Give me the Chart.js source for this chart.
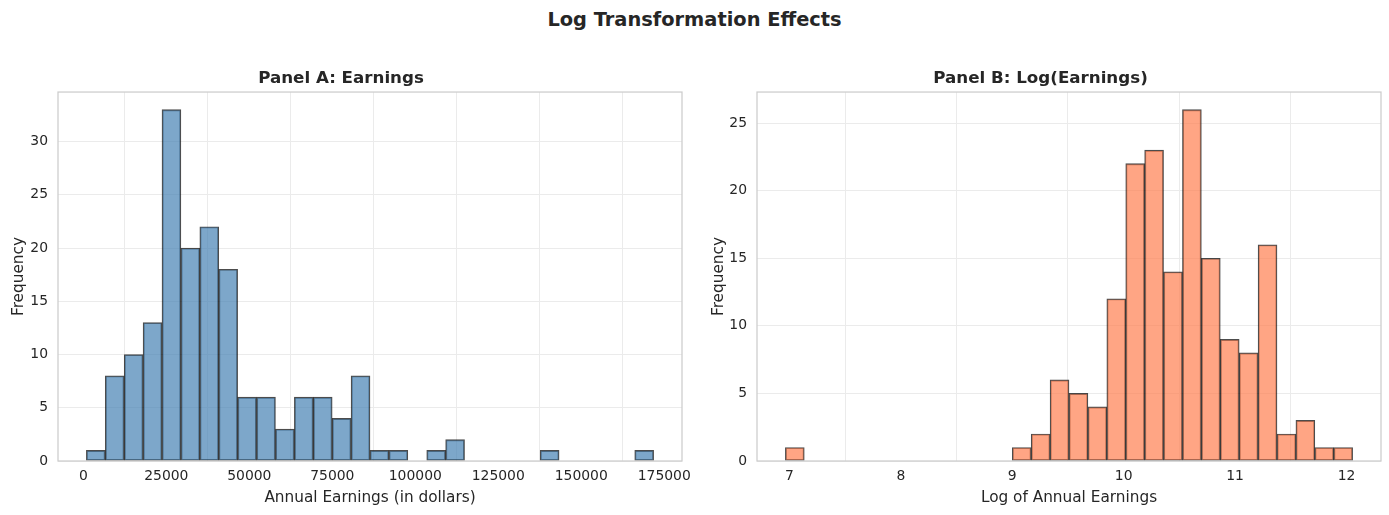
<!DOCTYPE html>
<html>
<head>
<meta charset="utf-8">
<script src="https://cdn.jsdelivr.net/npm/chart.js@4/dist/chart.umd.min.js"></script>
<style>
    body { margin: 0; background: white; width: 1389px; height: 515px; position: relative; overflow: hidden; }
    #suptitle {
        position: absolute; left: 0; top: 8px; width: 1389px; text-align: center;
        font-family: 'DejaVu Sans'; font-weight: bold; font-size: 19.4px; color: #262626;
    }
    #boxA { position: absolute; left: 0; top: 0; width: 694px; height: 515px; }
    #boxB { position: absolute; left: 700px; top: 0; width: 689px; height: 515px; }
</style>
</head>
<body>
<div id="suptitle">Log Transformation Effects</div>
<div id="boxA"><canvas id="panelA"></canvas></div>
<div id="boxB"><canvas id="panelB"></canvas></div>
<script>
// Panel A: earnings histogram, 30 bins
const earningsBinStart = 900;
const earningsBinWidth = 5697;
const earningsCounts = [1, 8, 10, 13, 33, 20, 22, 18, 6, 6, 3, 6, 6, 4, 8, 1, 1, 0, 1, 2, 0, 0, 0, 0, 1, 0, 0, 0, 0, 1];
const earningsXTicks = [0, 25000, 50000, 75000, 100000, 125000, 150000, 175000];
const earningsYTicks = [0, 5, 10, 15, 20, 25, 30];

// Panel B: log earnings histogram, 30 bins
const logBinStart = 6.964;
const logBinWidth = 0.1697;
const logCounts = [1, 0, 0, 0, 0, 0, 0, 0, 0, 0, 0, 0, 1, 2, 6, 5, 4, 12, 22, 23, 14, 26, 15, 9, 8, 16, 2, 3, 1, 1];
const logXTicks = [7, 8, 9, 10, 11, 12];
const logYTicks = [0, 5, 10, 15, 20, 25];

const textColor = '#262626';
const gridColor = '#ebebeb';

Chart.defaults.font.family = 'DejaVu Sans';
Chart.defaults.color = textColor;

// full box around the plot area (all four spines)
const frame = {
    id: 'frame',
    afterDraw(chart) {
        const a = chart.chartArea;
        const c = chart.ctx;
        c.save();
        c.strokeStyle = '#cccccc';
        c.lineWidth = 1.25;
        c.strokeRect(a.left, a.top, a.right - a.left, a.bottom - a.top);
        c.restore();
    }
};

function histPoints(start, width, counts) {
    return counts.map((n, i) => ({ x: start + width * (i + 0.5), y: n === 0 ? null : n }));
}

function makePanel(id, o) {
    const edgeMin = o.start;
    const edgeMax = o.start + o.width * o.counts.length;
    const margin = (edgeMax - edgeMin) * 0.05;
    const ymax = Math.max(...o.counts) * 1.05;

    return new Chart(document.getElementById(id).getContext('2d'), {
        type: 'bar',
        data: {
            datasets: [{
                data: histPoints(o.start, o.width, o.counts),
                backgroundColor: o.fill,
                borderColor: 'rgba(0, 0, 0, 0.7)',
                borderWidth: 1.2,
                borderSkipped: false,
                barPercentage: 1,
                categoryPercentage: 1
            }]
        },
        options: {
            responsive: true,
            maintainAspectRatio: false,
            animation: false,
            layout: { padding: { left: 0, right: o.padRight, top: 0, bottom: 0 } },
            plugins: {
                legend: { display: false },
                tooltip: { enabled: false },
                title: {
                    display: true,
                    text: o.title,
                    color: textColor,
                    font: { size: 16.7, weight: 'bold' },
                    padding: { top: 69, bottom: 3 }
                }
            },
            scales: {
                x: {
                    type: 'linear',
                    offset: false,
                    min: edgeMin - margin,
                    max: edgeMax + margin,
                    afterBuildTicks: (axis) => { axis.ticks = o.xTicks.map(v => ({ value: v })); },
                    afterFit: (axis) => { axis.height = 54; axis.paddingLeft = 0; axis.paddingRight = 0; },
                    grid: { color: gridColor, drawTicks: false },
                    border: { display: false },
                    ticks: { padding: 7, font: { size: 13.9 }, color: textColor, maxRotation: 0, callback: v => String(v) },
                    title: { display: true, text: o.xLabel, color: textColor, font: { size: 15.3 }, padding: { top: 0, bottom: 8 } }
                },
                y: {
                    min: 0,
                    max: ymax,
                    afterBuildTicks: (axis) => { axis.ticks = o.yTicks.map(v => ({ value: v })); },
                    afterFit: (axis) => { axis.width = o.yWidth; },
                    grid: { color: gridColor, drawTicks: false },
                    border: { display: false },
                    ticks: { padding: 10, font: { size: 13.9 }, color: textColor },
                    title: { display: true, text: 'Frequency', color: textColor, font: { size: 15.3 }, padding: { top: 10, bottom: 0 } }
                }
            }
        },
        plugins: [frame]
    });
}

makePanel('panelA', {
    title: 'Panel A: Earnings',
    xLabel: 'Annual Earnings (in dollars)',
    start: earningsBinStart, width: earningsBinWidth, counts: earningsCounts,
    xTicks: earningsXTicks, yTicks: earningsYTicks,
    fill: 'rgba(70, 130, 180, 0.7)',
    yWidth: 58, padRight: 12
});

makePanel('panelB', {
    title: 'Panel B: Log(Earnings)',
    xLabel: 'Log of Annual Earnings',
    start: logBinStart, width: logBinWidth, counts: logCounts,
    xTicks: logXTicks, yTicks: logYTicks,
    fill: 'rgba(255, 127, 80, 0.7)',
    yWidth: 57, padRight: 8
});
</script>
</body>
</html>
